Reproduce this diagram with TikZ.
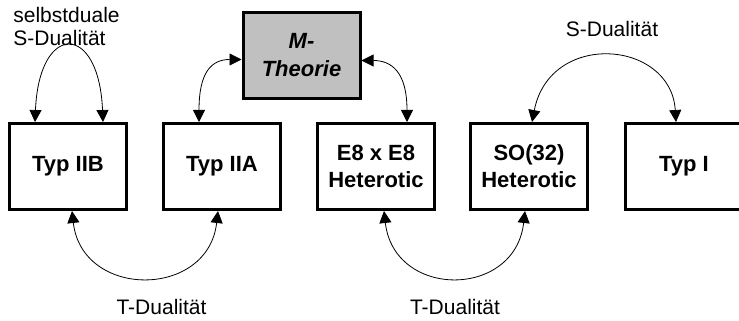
\documentclass[tikz,border=0pt]{standalone}
\usepackage{fontspec}
\setmainfont{Liberation Sans}
\usetikzlibrary{arrows.meta}
\definecolor{mgray}{RGB}{192,192,192}

\begin{document}
\begin{tikzpicture}[x=1pt,y=1pt,
  box/.style={draw,line width=3pt,minimum width=117pt,minimum height=86pt,
    align=center,font=\fontsize{22}{27}\selectfont\bfseries},
  dual/.style={line width=0.8pt,
    {Triangle[width=12pt,length=12pt]}-{Triangle[width=12pt,length=12pt]}},
  lbl/.style={inner sep=0pt,font=\fontsize{21}{23}\selectfont}]
\useasboundingbox (0,0) rectangle (739,321);
\node[box] (iib) at (68,154.5){Typ IIB};
\node[box] (iia) at (222,154.5){Typ IIA};
\node[box,fill=mgray,font=\fontsize{22}{28}\selectfont\bfseries\itshape] (mth) at (301.5,265.5){M-\\Theorie};
\node[box] (e8) at (376,154.5){E8 x E8\\Heterotic};
\node[box] (so) at (529,154.5){SO(32)\\Heterotic};
\node[box] (typi) at (684,154.5){Typ I};
% S-Dualitaet
\draw[dual] ([xshift=-33pt]iib.north) .. controls +(4,100) and +(-4,100) .. ([xshift=35pt]iib.north);
\draw[dual] ([xshift=3pt]so.north) .. controls +(18,92) and +(-5,82) .. ([xshift=-8pt]typi.north);
% M-Theorie
\draw[dual] ([xshift=-23pt]iia.north) .. controls +(0,50) and +(-30,0) .. ([yshift=-4pt]mth.west);
\draw[dual] ([yshift=-5pt]mth.east) .. controls +(30,0) and +(0,50) .. ([xshift=31pt]e8.north);
% T-Dualitaet
\draw[dual] ([xshift=4pt]iib.south) .. controls +(10,-88) and +(-10,-88) .. ([xshift=-4pt]iia.south);
\draw[dual] ([xshift=8pt]e8.south) .. controls +(10,-88) and +(-10,-88) .. ([xshift=-4pt]so.south);
% Beschriftung
\node[lbl,align=left] (sself) at (66.5,294.5){selbstduale\\S-Dualit\"at};
\node[lbl,anchor=base] (sdual) at (612,284){S-Dualit\"at};
\node[lbl,anchor=base] (tdual1) at (161.5,6){T-Dualit\"at};
\node[lbl,anchor=base] (tdual2) at (455,6){T-Dualit\"at};
\end{tikzpicture}
\end{document}
